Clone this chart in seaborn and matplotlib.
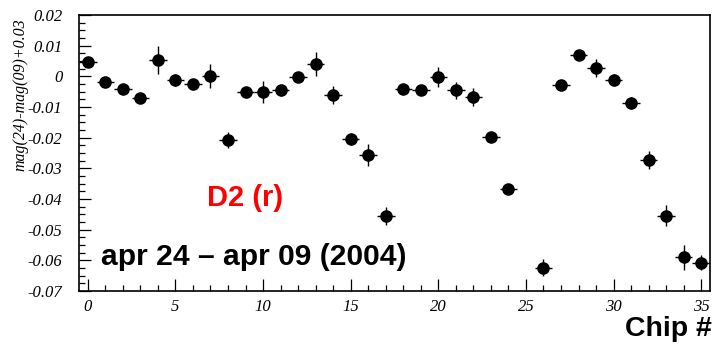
import numpy as np
import pandas as pd
import matplotlib
matplotlib.use("Agg")
import matplotlib.pyplot as plt
import seaborn as sns
from matplotlib.ticker import MultipleLocator

# ---- data ----
chips = [0, 1, 2, 3, 4, 5, 6, 7, 8, 9, 10, 11, 12, 13, 14, 15, 16, 17,
         18, 19, 20, 21, 22, 23, 24, 26, 27, 28, 29, 30, 31, 32, 33, 34, 35]
dmag = [0.0047, -0.0019, -0.0041, -0.0071, 0.0053, -0.0012, -0.0025, 0.0001,
        -0.0208, -0.0051, -0.0051, -0.0045, -0.0002, 0.0040, -0.0060, -0.0204,
        -0.0257, -0.0456, -0.0041, -0.0045, -0.0002, -0.0045, -0.0067, -0.0197,
        -0.0367, -0.0624, -0.0028, 0.0069, 0.0027, -0.0012, -0.0087, -0.0273,
        -0.0454, -0.0590, -0.0608]
dmag_err = [0.0015, 0.0015, 0.0015, 0.0015, 0.0045, 0.0020, 0.0015, 0.0040,
            0.0025, 0.0015, 0.0035, 0.0018, 0.0015, 0.0040, 0.0030, 0.0020,
            0.0036, 0.0029, 0.0015, 0.0015, 0.0034, 0.0028, 0.0029, 0.0015,
            0.0015, 0.0028, 0.0015, 0.0015, 0.0030, 0.0018, 0.0018, 0.0030,
            0.0034, 0.0040, 0.0025]
chip_err = [0.5] * len(chips)

df = pd.DataFrame({"chip": chips, "dmag": dmag})

sns.set_theme(style="ticks")
plt.rcParams["font.family"] = ["Liberation Sans", "DejaVu Sans"]

fig = plt.figure(figsize=(7.14, 3.44), dpi=100)
ax = fig.add_axes([79 / 714, 1 - 291 / 344, (710 - 79) / 714, (291 - 15) / 344])

ax.errorbar(chips, dmag, xerr=chip_err, yerr=dmag_err, fmt="none",
            ecolor="black", elinewidth=1.0, capsize=0, zorder=2)
sns.scatterplot(data=df, x="chip", y="dmag", ax=ax, color="black", s=82,
                edgecolor="black", linewidth=0, zorder=3, legend=False)

ax.set_xlim(-0.5, 35.5)
ax.set_ylim(-0.07, 0.02)
ax.set_xlabel("")
ax.set_ylabel("")

ax.xaxis.set_major_locator(MultipleLocator(5))
ax.xaxis.set_minor_locator(MultipleLocator(1))
ax.yaxis.set_major_locator(MultipleLocator(0.01))
ax.yaxis.set_minor_locator(MultipleLocator(0.0025))

for sp in ax.spines.values():
    sp.set_visible(True)
    sp.set_linewidth(1.2)
    sp.set_color("black")

ax.tick_params(axis="both", which="major", direction="in", length=8.6,
               width=0.9, color="black", top=False, right=False)
ax.tick_params(axis="both", which="minor", direction="in", length=4.3,
               width=0.9, color="black", top=False, right=False)
ax.tick_params(axis="y", which="major", pad=12)
ax.tick_params(axis="x", which="major", pad=6)

ax.set_xticks([0, 5, 10, 15, 20, 25, 30, 35])
ax.set_xticklabels(["0", "5", "10", "15", "20", "25", "30", "35"])
yt = [0.02, 0.01, 0, -0.01, -0.02, -0.03, -0.04, -0.05, -0.06, -0.07]
ax.set_yticks(yt)
ax.set_yticklabels(["0.02", "0.01", "0", "-0.01", "-0.02", "-0.03",
                    "-0.04", "-0.05", "-0.06", "-0.07"])
for lab in ax.get_xticklabels() + ax.get_yticklabels():
    lab.set_fontfamily("Liberation Serif")
    lab.set_fontstyle("italic")
    lab.set_fontsize(12)
    lab.set_color("black")

ax.grid(False)
ax.set_facecolor("white")
fig.patch.set_facecolor("white")

fig.text(20.5 / 714, 1 - 95 / 344, "mag(24)-mag(09)+0.03", rotation=90,
         ha="center", va="center", family="Liberation Serif",
         style="italic", fontsize=11.5, color="black")

ax.text(0.263, 0.337, "D2 (r)", transform=ax.transAxes, ha="center",
        va="center", color="#ff0000", fontsize=21, fontweight="bold",
        family="Liberation Sans")
ax.text(0.035, 0.123, "apr 24 \u2013 apr 09 (2004)", transform=ax.transAxes,
        ha="left", va="center", color="black", fontsize=21.6,
        fontweight="bold", family="Liberation Sans")

fig.text(0.997, 1 - 336 / 344, "Chip #", ha="right", va="baseline",
         fontsize=20.5, fontweight="bold", family="Liberation Sans",
         color="black")

fig.savefig("out.png", dpi=100, facecolor="white")
